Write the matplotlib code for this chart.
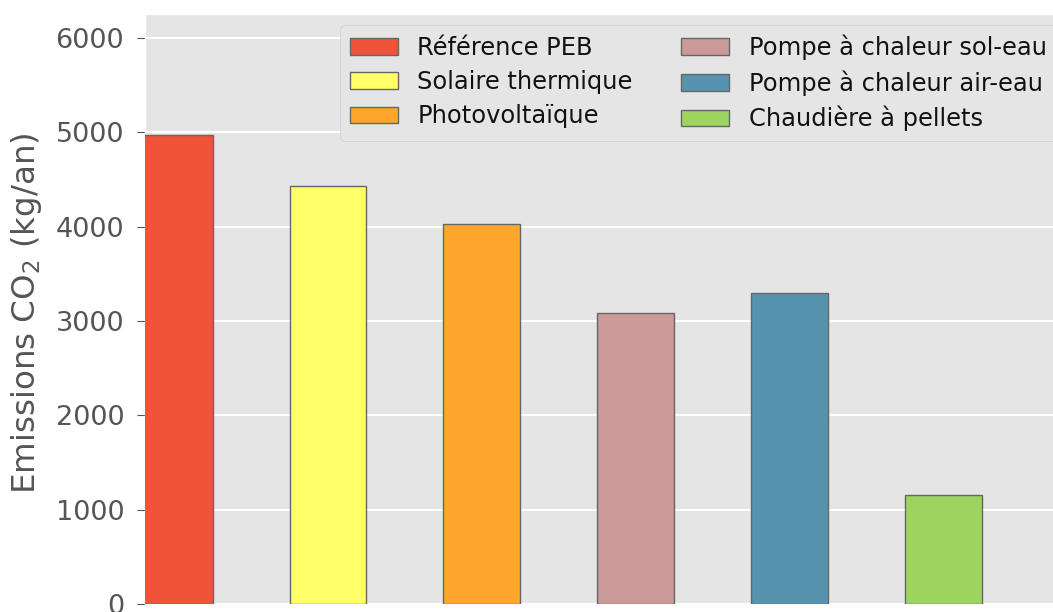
import matplotlib
matplotlib.use("Agg")
import matplotlib.pyplot as plt

plt.style.use("ggplot")

categories = ["Référence PEB", "Solaire thermique", "Photovoltaïque",
              "Pompe à chaleur sol-eau", "Pompe à chaleur air-eau", "Chaudière à pellets"]
values = [4970, 4430, 4030, 3085, 3295, 1160]
colors = ["#F05438", "#FFFF66", "#FFA62B", "#CC9999", "#5593AF", "#9CD45F"]
yticks = [0, 1000, 2000, 3000, 4000, 5000, 6000]

W, H = 1053, 612
fig = plt.figure(figsize=(W / 100, H / 100), dpi=100)
ax = fig.add_axes([145 / W, 8 / H, (W + 10 - 145) / W, (604 - 14) / H])

x = list(range(len(categories)))
for i, (c, v, col) in enumerate(zip(categories, values, colors)):
    ax.bar(x[i], v, width=0.5, color=col, edgecolor="#666666", linewidth=1, label=c, zorder=3)

ax.set_xlim(-0.19, 5.78)
ax.set_ylim(0, 6254)
ax.set_yticks(yticks)
ax.set_xticks([])
ax.tick_params(axis="y", labelsize=19.5, colors="#555555", length=6, pad=9)
ax.set_ylabel("Emissions CO$_2$ (kg/an)", fontsize=23.4, color="#555555")
ax.yaxis.set_label_coords(44 / W, 0.5 - 7 / H, transform=fig.transFigure)
ax.grid(axis="x", visible=False)
ax.grid(axis="y", color="white", linewidth=1.5)

leg = ax.legend(ncol=2, loc="upper left", bbox_to_anchor=(340 / W, 1 - 25 / H),
                bbox_transform=fig.transFigure, fontsize=17.4, labelspacing=0.42,
                facecolor="#E5E5E5", edgecolor="#CCCCCC", framealpha=1,
                borderaxespad=0)
for t in leg.get_texts():
    t.set_color("#111111")
for p in leg.get_patches():
    p.set_edgecolor("#666666")

fig.savefig("out.png", dpi=100)
